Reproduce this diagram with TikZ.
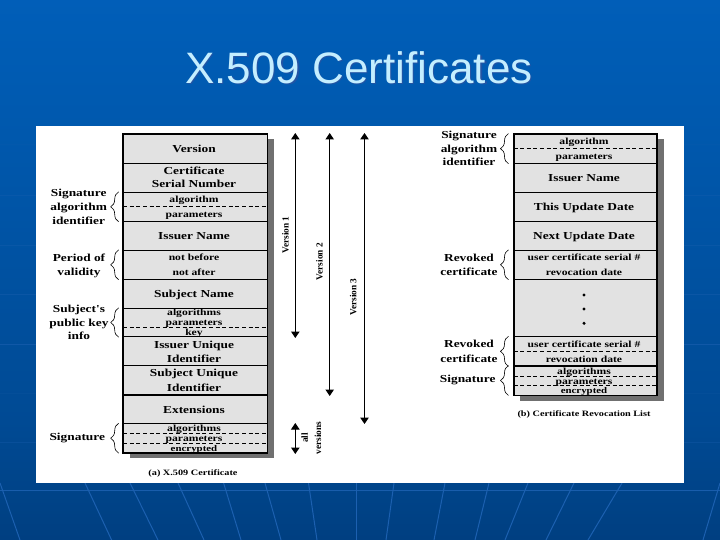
\documentclass[tikz,border=0pt]{standalone}
\usepackage{fontspec}
\usetikzlibrary{decorations.pathreplacing,arrows.meta}
\setmainfont{Liberation Sans}
\newfontfamily\tb[FakeStretch=1.25,UprightFont=* Bold]{Liberation Serif}
\newfontfamily\tc[UprightFont=* Bold]{Liberation Serif}
\definecolor{cellgray}{HTML}{E2E2E2}
\definecolor{shadowgray}{HTML}{707070}
\definecolor{titlecol}{HTML}{C4EEFF}
\definecolor{gridcol}{HTML}{1C60B0}
\definecolor{bgA}{HTML}{002A5C}
\definecolor{bgB}{HTML}{003A78}
\definecolor{bgC}{HTML}{004A94}
\definecolor{bgD}{HTML}{005CB4}
\definecolor{bgE}{HTML}{0468CC}
\pgfdeclareverticalshading{slidebg}{100bp}{
  color(0bp)=(bgA); color(9bp)=(bgA); color(20bp)=(bgB); color(36bp)=(bgC);
  color(70bp)=(bgD); color(100bp)=(bgE)}
\tikzset{
  txtbox/.style={inner sep=0pt,text height=1.3ex,text depth=0pt},
  bigtxt/.style={font=\tb\fontsize{10.7}{12}\selectfont,txtbox},
  smalltxt/.style={font=\tb\fontsize{9.3}{11}\selectfont,txtbox},
  tinytxt/.style={font=\tb\fontsize{8.7}{10}\selectfont,txtbox},
  capt/.style={font=\tb\fontsize{8.2}{10}\selectfont,txtbox},
  sidetext/.style={font=\tc\fontsize{9.3}{11}\selectfont,txtbox,rotate=90},
  cellbox/.style={draw=black,fill=cellgray,line width=0.9pt,inner sep=0pt},
  outerbox/.style={draw=black,line width=1.5pt},
  dashline/.style={draw=black,line width=0.7pt,dash pattern=on 4pt off 2.6pt},
  bracel/.style={draw=black,line width=0.6pt,decorate,decoration={brace,amplitude=8pt,aspect=0.5}},
  vers/.style={draw=black,line width=1pt,{Triangle[length=6.5pt,width=8.5pt]}-{Triangle[length=6.5pt,width=8.5pt]}},
  gridline/.style={draw=gridcol,line width=1pt},
  dotmark/.style={circle,fill=black,inner sep=0pt,minimum size=3.4pt},
}
% name, x centre, width, y top, y bottom
\newcommand{\cellat}[5]{%
  \pgfmathsetmacro{\cy}{(#4+#5)/2}\pgfmathsetmacro{\ch}{#5-#4}%
  \node[cellbox,minimum width=#3pt,minimum height=\ch pt] (#1) at (#2,\cy) {};}
\begin{document}
\begin{tikzpicture}[x=1pt,y=-1pt]
\useasboundingbox (0,0) rectangle (720,540);
\shade[shading=slidebg] (0,0) rectangle (720,540);
% background grid
\foreach \yy/\op in {145/.12,196/.3,245/.35,294/.4,344/.6,393/.15,442/.3,490.5/.9}
  \draw[gridline,opacity=\op] (0,\yy) -- (720,\yy);
\foreach \a/\b in {85/111.6,130/158,178/204,223.6/241,265/281,308.5/317,356/356,394/386,445/434,489/475,528/505,574/546,622/588,720/703,0/20}
  \draw[gridline] (\a,483) -- (\b,540);
% title
\node[font=\fontsize{44}{50}\selectfont,text=black!60!blue!70,opacity=.45,inner sep=0pt] at (360.2,69) {X.509 Certificates};
\node[font=\fontsize{44}{50}\selectfont,text=titlecol,inner sep=0pt] (title) at (359,67.5) {X.509 Certificates};
% panel
\fill[white] (36,126) rectangle (684,483);
% shadows
\fill[shadowgray] (130,139) rectangle (274,458.3);
\fill[shadowgray] (520,139) rectangle (664,400.7);
% left table
\foreach \n/\t/\b in {lver/134/163.3,lser/163.3/192.3,lsig/192.3/221.3,liss/221.3/250.3,lper/250.3/279.3,lsub/279.3/308.3,lpub/308.3/336.7,liu/336.7/365.7,lsu/365.7/395,lext/395/423.7,lsgn/423.7/452.7}
  {\cellat{\n}{195.3}{143.3}{\t}{\b}}
\draw[outerbox] (lver.north west) rectangle (lsgn.south east);
\draw[line width=1.3pt] (liu.north west) -- (liu.north east) (lsu.north west) -- (lsu.north east) (lext.north west) -- (lext.north east) (lsgn.north west) -- (lsgn.north east);
\draw[dashline] (lsig.west) -- (lsig.east);
\draw[dashline] (lpub.west |- 0,327.3) -- (lpub.east |- 0,327.3);
\draw[dashline] (lsgn.west |- 0,433.3) -- (lsgn.east |- 0,433.3);
\draw[dashline] (lsgn.west |- 0,443.3) -- (lsgn.east |- 0,443.3);
% left table text
\node[bigtxt] (t1) at (194,149) {Version};
\node[bigtxt] (t2) at (194,171) {Certificate};
\node[bigtxt] (t3) at (194,184.3) {Serial Number};
\node[smalltxt] (t4) at (194,199) {algorithm};
\node[smalltxt] (t5) at (194,214) {parameters};
\node[bigtxt] (t6) at (194,236) {Issuer Name};
\node[smalltxt] (t7) at (194,257.3) {not before};
\node[smalltxt] (t8) at (194,271.7) {not after};
\node[bigtxt] (t9) at (194,294) {Subject Name};
\node[smalltxt] (t10) at (194,312) {algorithms};
\node[smalltxt] (t11) at (194,322) {parameters};
\node[smalltxt] (t12) at (194,332.3) {key};
\node[bigtxt] (t13) at (194,344.7) {Issuer Unique};
\node[bigtxt] (t14) at (194,358.7) {Identifier};
\node[bigtxt] (t15) at (194,373.3) {Subject Unique};
\node[bigtxt] (t16) at (194,387.7) {Identifier};
\node[bigtxt] (t17) at (194,410) {Extensions};
\node[smalltxt] (t18) at (194,428.3) {algorithms};
\node[smalltxt] (t19) at (194,438) {parameters};
\node[tinytxt] (t20) at (194,447.7) {encrypted};
\node[capt] (capa) at (193,471.7) {(a) X.509 Certificate};
% left labels
\node[bigtxt] (l1) at (78.7,193.3) {Signature};
\node[bigtxt] (l2) at (78.7,207.3) {algorithm};
\node[bigtxt] (l3) at (78.7,220.7) {identifier};
\node[bigtxt] (l4) at (79,258.3) {Period of};
\node[bigtxt] (l5) at (79,272) {validity};
\node[bigtxt] (l6) at (79,309.3) {Subject's};
\node[bigtxt] (l7) at (79,323) {public key};
\node[bigtxt] (l8) at (79,336.3) {info};
\node[bigtxt] (l9) at (77.3,436.7) {Signature};
% left braces
\draw[bracel] ([xshift=-4.5pt]lsig.south west) -- ([xshift=-4.5pt]lsig.north west);
\draw[bracel] ([xshift=-4.5pt]lper.south west) -- ([xshift=-4.5pt]lper.north west);
\draw[bracel] ([xshift=-4.5pt]lpub.south west) -- ([xshift=-4.5pt]lpub.north west);
\draw[bracel] ([xshift=-4.5pt]lsgn.south west) -- ([xshift=-4.5pt]lsgn.north west);
% right table
\foreach \n/\t/\b in {rsig/134/163.3,riss/163.3/192.3,rthi/192.3/221.3,rnex/221.3/250.3,rrev/250.3/279.3,rdot/279.3/336.7,rre2/336.7/366,rsgn/366/395}
  {\cellat{\n}{585.3}{142.7}{\t}{\b}}
\draw[outerbox] (rsig.north west) rectangle (rsgn.south east);
\draw[line width=1.3pt] (rre2.north west) -- (rre2.north east) (rsgn.north west) -- (rsgn.north east);
\draw[dashline] (rsig.west |- 0,148.3) -- (rsig.east |- 0,148.3);
\draw[dashline] (rre2.west |- 0,351.3) -- (rre2.east |- 0,351.3);
\draw[dashline] (rsgn.west |- 0,376.3) -- (rsgn.east |- 0,376.3);
\draw[dashline] (rsgn.west |- 0,385.7) -- (rsgn.east |- 0,385.7);
% right table text
\node[smalltxt] (r1) at (584,141) {algorithm};
\node[smalltxt] (r2) at (584,156.3) {parameters};
\node[bigtxt] (r3) at (584,178.3) {Issuer Name};
\node[bigtxt] (r4) at (584,207.3) {This Update Date};
\node[bigtxt] (r5) at (584,236) {Next Update Date};
\node[smalltxt] (r6) at (584,257) {user certificate serial \#};
\node[smalltxt] (r7) at (584,271.7) {revocation date};
\node[dotmark] (d1) at (584,295) {};
\node[dotmark] (d2) at (584,309) {};
\node[dotmark] (d3) at (584,323.3) {};
\node[smalltxt] (r8) at (584,344.3) {user certificate serial \#};
\node[smalltxt] (r9) at (584,358.7) {revocation date};
\node[smalltxt] (r10) at (584,370.7) {algorithms};
\node[smalltxt] (r11) at (584,380.7) {parameters};
\node[tinytxt] (r12) at (584,389.7) {encrypted};
\node[capt] (capb) at (584,413.3) {(b) Certificate Revocation List};
% right labels
\node[bigtxt] (m1) at (469,135) {Signature};
\node[bigtxt] (m2) at (469,149.3) {algorithm};
\node[bigtxt] (m3) at (469,162.3) {identifier};
\node[bigtxt] (m4) at (469,258.3) {Revoked};
\node[bigtxt] (m5) at (469,271.7) {certificate};
\node[bigtxt] (m6) at (469,344.3) {Revoked};
\node[bigtxt] (m7) at (469,359) {certificate};
\node[bigtxt] (m8) at (467.7,379) {Signature};
% right braces
\draw[bracel] ([xshift=-5pt]rsig.south west) -- ([xshift=-5pt]rsig.north west);
\draw[bracel] ([xshift=-5pt]rrev.south west) -- ([xshift=-5pt]rrev.north west);
\draw[bracel] ([xshift=-5pt]rre2.south west) -- ([xshift=-5pt]rre2.north west);
\draw[bracel] ([xshift=-5pt]rsgn.south west) -- ([xshift=-5pt]rsgn.north west);
% version arrows
\coordinate (v1a) at (295.3,133); \coordinate (v1b) at (295.3,338);
\coordinate (v2a) at (329.7,133); \coordinate (v2b) at (329.7,396);
\coordinate (v3a) at (364.5,133); \coordinate (v3b) at (364.5,424);
\coordinate (v4a) at (295.3,423); \coordinate (v4b) at (295.3,454);
\draw[vers] (v1a) -- (v1b);
\draw[vers] (v2a) -- (v2b);
\draw[vers] (v3a) -- (v3b);
\draw[vers] (v4a) -- (v4b);
\node[sidetext] (s1) at (285.3,235) {Version 1};
\node[sidetext] (s2) at (319.3,261.7) {Version 2};
\node[sidetext] (s3) at (353,297) {Version 3};
\node[sidetext] (s4) at (304.5,438) {all};
\node[sidetext] (s5) at (317.7,438) {versions};
\end{tikzpicture}
\end{document}
